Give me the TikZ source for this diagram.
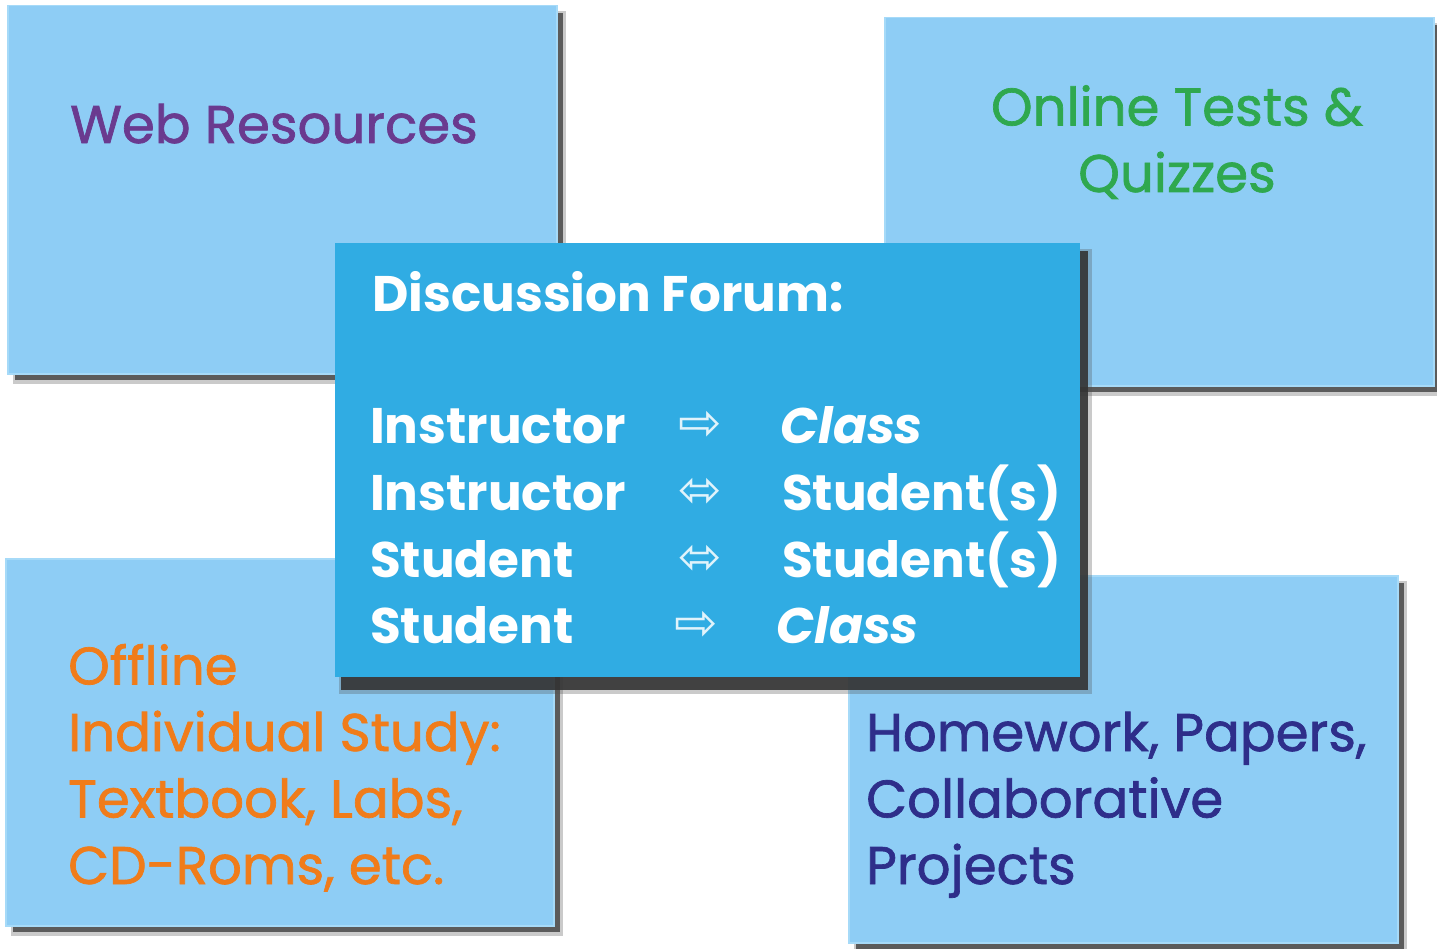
\documentclass[tikz,border=0pt]{standalone}
\usepackage{fontspec}
\setmainfont{Poppins}
\newfontfamily\boldishfont[FakeBold=1.3]{Poppins}
\newfontfamily\arrowfont{DejaVu Sans}
\definecolor{lightbox}{HTML}{8ECDF5}
\definecolor{lightedge}{HTML}{A6DAF8}
\definecolor{centerbox}{HTML}{30ACE3}
\definecolor{shadowgray}{HTML}{505050}
\definecolor{webpurple}{HTML}{6A3A8F}
\definecolor{testgreen}{HTML}{2FA84F}
\definecolor{offorange}{HTML}{F07C1A}
\definecolor{hwblue}{HTML}{2E2E8A}
\tikzset{
  panel/.style={fill=lightbox, draw=lightedge, line width=1.5pt},
  mainpanel/.style={fill=centerbox, draw=none},
  shade/.style={fill=shadowgray, draw=none, opacity=0.9},
  softshade/.style={fill=shadowgray, draw=none, opacity=0.3},
  bigtext/.style={font=\boldishfont\fontsize{53}{66.5}\selectfont, inner sep=0pt},
  whitetext/.style={font=\fontsize{50}{67}\selectfont\bfseries, text=white, inner sep=0pt},
  arrowtext/.style={font=\arrowfont\fontsize{52}{52}\selectfont, text=white!85!centerbox, inner sep=0pt},
}
\begin{document}
\begin{tikzpicture}[x=1pt,y=-1pt]
\useasboundingbox[fill=white] (0,0) rectangle (1437,949);
% shadows
\fill[softshade] (13,11) rectangle (566,384);
\fill[shade] (15,13) rectangle (563,380);
\fill[softshade] (890,23) rectangle (1440,396);
\fill[shade] (892,25) rectangle (1437,392);
\fill[softshade] (11,564) rectangle (563,936);
\fill[shade] (13,566) rectangle (560,932);
\fill[softshade] (854,581) rectangle (1407,949);
\fill[shade] (856,583) rectangle (1404,949);
% light panels
\node[panel, minimum width=549pt, minimum height=368pt, anchor=north west] (web) at (7,5) {};
\node[panel, minimum width=549pt, minimum height=368pt, anchor=north west] (tests) at (884,17) {};
\node[panel, minimum width=548pt, minimum height=367pt, anchor=north west] (offline) at (5,558) {};
\node[panel, minimum width=549pt, minimum height=367pt, anchor=north west] (hw) at (848,575) {};
% center shadow and panel
\fill[softshade] (339,249) rectangle (1092,694);
\fill[fill=black!80, opacity=0.9] (341,251) rectangle (1088,690);
\node[mainpanel, minimum width=745pt, minimum height=434pt, anchor=north west] (forum) at (335,243) {};
% texts (base anchor = baseline of last line)
\node[bigtext, text=webpurple, anchor=base west] (webt) at (70,143) {Web Resources};
\node[bigtext, text=testgreen, align=center, anchor=base] (testst) at (1177,192) {Online Tests \&\\Quizzes};
\node[bigtext, text=offorange, align=left, anchor=base west] (offt) at (68,884) {Offline\\Individual Study:\\Textbook, Labs,\\CD-Roms, etc.};
\node[bigtext, text=hwblue, align=left, anchor=base west] (hwt) at (866,884) {Homework, Papers,\\Collaborative\\Projects};
% forum text
\node[whitetext, anchor=base west] (ftitle) at (372,312) {Discussion Forum:};
\node[whitetext, anchor=base west] (l1) at (370,443) {Instructor};
\node[whitetext, anchor=base west] (l2) at (370,510) {Instructor};
\node[whitetext, anchor=base west] (l3) at (370,577) {Student};
\node[whitetext, anchor=base west] (l4) at (370,643) {Student};
\node[arrowtext, anchor=base] (a1) at (700,440) {⇨};
\node[arrowtext, anchor=base] (a2) at (700,507) {⬄};
\node[arrowtext, anchor=base] (a3) at (700,574) {⬄};
\node[arrowtext, anchor=base] (a4) at (696,640) {⇨};
\node[whitetext, anchor=base west] (r1) at (780,443) {\itshape Class};
\node[whitetext, anchor=base west] (r2) at (782,510) {Student(s)};
\node[whitetext, anchor=base west] (r3) at (782,577) {Student(s)};
\node[whitetext, anchor=base west] (r4) at (776,643) {\itshape Class};
\end{tikzpicture}
\end{document}
